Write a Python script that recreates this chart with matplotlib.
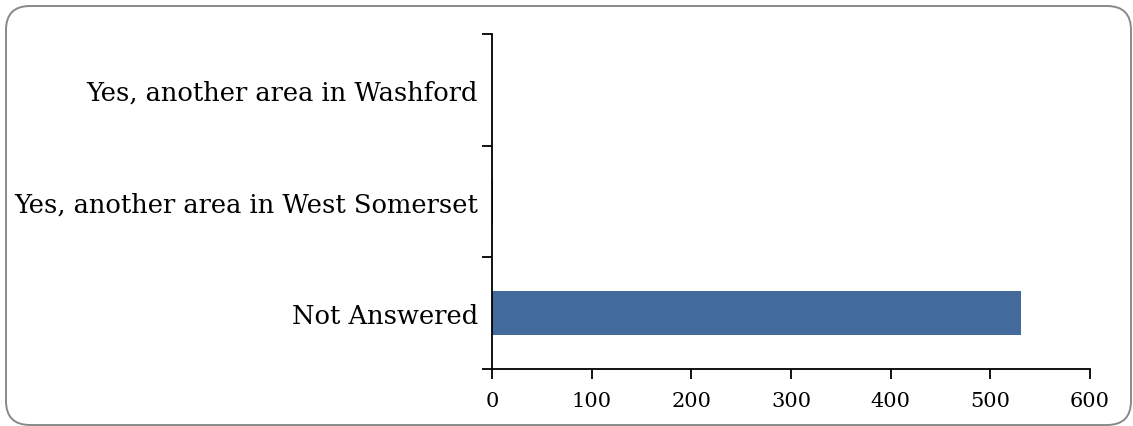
import matplotlib
matplotlib.use("Agg")
import matplotlib.pyplot as plt
from matplotlib.patches import FancyBboxPatch
from matplotlib.ticker import FixedLocator
from matplotlib.transforms import IdentityTransform

categories = ["Not Answered",
              "Yes, another area in West Somerset",
              "Yes, another area in Washford"]
counts = [531, 1, 0]
x_ticks = [0, 100, 200, 300, 400, 500, 600]

plt.rcParams['font.family'] = ['DejaVu Serif']

fig = plt.figure(figsize=(11.33, 4.27), dpi=100)

# rounded frame around the whole chart, in pixels
frame = FancyBboxPatch((6, 1), 1125, 419, boxstyle="round,pad=0,rounding_size=24",
                       transform=IdentityTransform(), facecolor="none", edgecolor="#898989",
                       linewidth=1.4, zorder=-1)
fig.patches.append(frame)

ax = fig.add_axes([0.4342, 0.1335, 0.5278, 0.7845])
ax.patch.set_alpha(0)

pos = list(range(len(categories)))
ax.barh(pos, counts, height=0.4, color="#426b9b")

ax.set_xlim(0, 600)
ax.set_ylim(-0.5, len(categories) - 0.5)
ax.set_xticks(x_ticks)
ax.set_yticks(pos)
ax.set_yticklabels(categories)
ax.yaxis.set_minor_locator(FixedLocator([p - 0.5 for p in pos] + [len(pos) - 0.5]))

for side in ["top", "right"]:
    ax.spines[side].set_visible(False)
for side in ["left", "bottom"]:
    ax.spines[side].set_linewidth(1.3)

ax.tick_params(axis="y", which="major", length=0, pad=10, labelsize=18.5)
ax.tick_params(axis="y", which="minor", length=7, width=1.3)
ax.tick_params(axis="x", length=7, width=1.3, labelsize=15, pad=9)

fig.savefig("out.png", dpi=100)
